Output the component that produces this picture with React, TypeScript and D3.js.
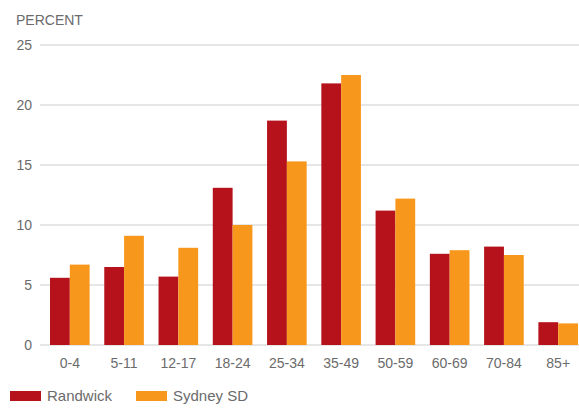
import React, { useEffect } from "react";
import * as d3 from "d3";

const categories = ["0-4", "5-11", "12-17", "18-24", "25-34", "35-49", "50-59", "60-69", "70-84", "85+"];
const randwick = [5.6, 6.5, 5.7, 13.1, 18.7, 21.8, 11.2, 7.6, 8.2, 1.9];
const sydney = [6.7, 9.1, 8.1, 10.0, 15.3, 22.5, 12.2, 7.9, 7.5, 1.8];
const yTicks = [0, 5, 10, 15, 20, 25];
const seriesNames = ["Randwick", "Sydney SD"];
const colors = ["#b5121b", "#f7981d"];

const W = 579;
const H = 416;

export default function App() {
  useEffect(() => {
    document.body.style.margin = "0";
  }, []);

  const x = d3.scaleBand<string>().domain(categories).range([50, 578]).paddingInner(0.27).paddingOuter(0);
  const xi = d3.scaleBand<string>().domain(seriesNames).range([0, x.bandwidth()]);
  const y = d3.scaleLinear().domain([0, 25]).range([345, 45]);
  const series = [randwick, sydney];
  const font = "'Liberation Sans', Arial, Helvetica, sans-serif";
  const txt = "#6b6b6b";

  return (
    <svg width={W} height={H} style={{ display: "block", fontFamily: font }}>
      <text x={16} y={25} fontSize={14} fill={txt}>PERCENT</text>
      {yTicks.map((t) => (
        <g key={t}>
          <line x1={40} x2={W} y1={y(t)} y2={y(t)} stroke="#e6e6e6" strokeWidth={2} />
          <text x={32} y={y(t)} dy="0.35em" textAnchor="end" fontSize={14} fill={txt}>{t}</text>
        </g>
      ))}
      {categories.map((c, i) => (
        <g key={c} transform={`translate(${x(c)},0)`}>
          {series.map((s, j) => (
            <rect
              key={j}
              x={xi(seriesNames[j])}
              y={y(s[i])}
              width={xi.bandwidth()}
              height={y(0) - y(s[i])}
              fill={colors[j]}
            />
          ))}
          <text x={x.bandwidth() / 2} y={368} textAnchor="middle" fontSize={14} fill={txt}>{c}</text>
        </g>
      ))}
      {seriesNames.map((n, j) => {
        const lx = j === 0 ? 10 : 136;
        return (
          <g key={n}>
            <rect x={lx} y={391} width={31} height={10} fill={colors[j]} />
            <text x={lx + 37} y={400.5} fontSize={15} fill={txt} fontWeight={500}>{n}</text>
          </g>
        );
      })}
    </svg>
  );
}
